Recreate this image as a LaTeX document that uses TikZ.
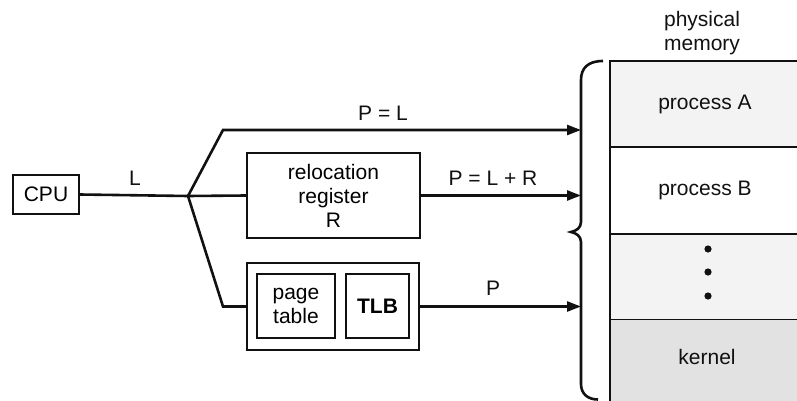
\documentclass[tikz,border=0pt]{standalone}
\usepackage{fontspec}
\setmainfont{Liberation Sans}
\usetikzlibrary{arrows.meta,positioning}
\definecolor{ink}{HTML}{111111}
\definecolor{stip}{HTML}{F3F3F3}
\definecolor{kern}{HTML}{E2E2E2}

\begin{document}
\begin{tikzpicture}[x=0.5pt,y=-0.5pt,>={Triangle[length=7pt,width=5pt]},
  box/.style={draw=ink,line width=0.8pt,inner sep=0pt,align=center,font=\fontsize{10.5}{12}\selectfont},
  wire/.style={draw=ink,line width=1.3pt},
  lbl/.style={font=\fontsize{10.5}{12}\selectfont,text=ink,align=center,inner sep=1pt},
  seg/.style={anchor=north west,inner sep=0pt,minimum width=93.5pt}]
\useasboundingbox (0,0) rectangle (797,401);

% cpu and translation paths
\node[box,minimum width=33pt,minimum height=19.5pt] (cpu) at (46,194.5) {CPU};
\node[box,minimum width=86.5pt,minimum height=42.5pt] (reloc) at (333.5,195.5) {relocation\\register\\R};
\node[box,minimum width=86pt,minimum height=43.5pt] (mmu) at (333,306.5) {};
\node[box,minimum width=39pt,minimum height=32pt] (ptab) at (296,306) {page\\table};
\node[box,minimum width=31.5pt,minimum height=32pt,font=\fontsize{10.5}{12}\selectfont\bfseries] (tlb) at (377.5,306) {TLB};
\coordinate (jn) at (188,196);
\coordinate (brc) at (581,130);

\draw[wire] (cpu.east) -- (jn);
\draw[wire,->] (jn) -- (223,130) -- (brc);
\draw[wire] (jn) -- (reloc.west);
\draw[wire,->] (reloc.east) -- (reloc.east -| brc);
\draw[wire] (jn) -- (223,306.5) -- (mmu.west);
\draw[wire,->] (mmu.east) -- (mmu.east -| brc);

\node[lbl] (lL) at (135,178) {L};
\node[lbl] (lA) at (383,113) {P = L};
\node[lbl] (lB) at (493,178) {P = L + R};
\node[lbl] (lC) at (493,288) {P};

% brace
\draw[wire] (603,61) .. controls (588,61) and (581,68) .. (581,80) -- (581,222)
  .. controls (581,228) and (576,231) .. (571,232) .. controls (576,233) and (581,236) .. (581,242)
  -- (581,384) .. controls (581,394) and (588,399.5) .. (598,399.5);

% physical memory
\node[seg,fill=stip,minimum height=42.5pt] (memA) at (610,61) {};
\node[seg,minimum height=43pt] (memB) at (memA.south west) {};
\node[seg,fill=stip,minimum height=42.5pt] (memD) at (memB.south west) {};
\node[seg,fill=kern,minimum height=41.5pt] (memK) at (memD.south west) {};
\draw[ink,line width=0.9pt] (memA.north east) -- (memA.north west) -- (memK.south west) -- (memK.south east);
\foreach \s in {memA,memB,memD}
  \draw[ink,line width=0.9pt] (\s.south west) -- (\s.south east);
\node[lbl] (tA) at (705,104) {process A};
\node[lbl] (tB) at (705,190) {process B};
\foreach \yy in {249,272,296}
  \fill[ink] (708,\yy) circle (3.6);
\node[lbl] (tK) at (707,357) {kernel};
\node[lbl] (title) at (702,33) {physical\\memory};
\end{tikzpicture}
\end{document}
